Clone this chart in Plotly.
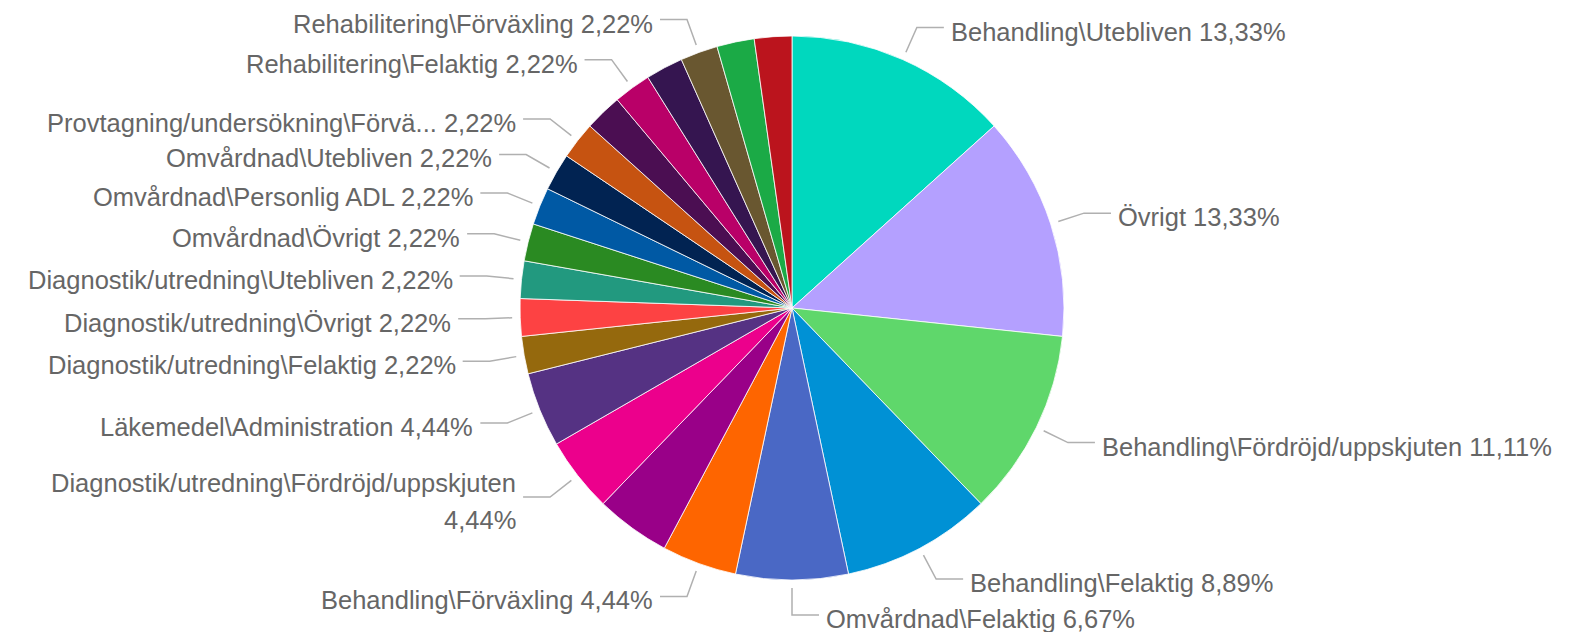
import math
import plotly.graph_objects as go

# ---------------- data ----------------
categories = [
    "Behandling\\Utebliven",
    "Övrigt",
    "Behandling\\Fördröjd/uppskjuten",
    "Behandling\\Felaktig",
    "Omvårdnad\\Felaktig",
    "Behandling\\Förväxling",
    "Behandling\\Övrigt",
    "Diagnostik/utredning\\Fördröjd/uppskjuten",
    "Läkemedel\\Administration",
    "Diagnostik/utredning\\Felaktig",
    "Diagnostik/utredning\\Övrigt",
    "Diagnostik/utredning\\Utebliven",
    "Omvårdnad\\Övrigt",
    "Omvårdnad\\Personlig ADL",
    "Omvårdnad\\Utebliven",
    "Provtagning/undersökning\\Förväxling",
    "Provtagning/undersökning\\Utebliven",
    "Rehabilitering\\Felaktig",
    "Rehabilitering\\Fördröjd/uppskjuten",
    "Rehabilitering\\Förväxling",
    "Rehabilitering\\Utebliven",
    "Vårdrelaterad infektion",
]
counts = [6, 6, 5, 4, 3, 2, 2, 2, 2, 1, 1, 1, 1, 1, 1, 1, 1, 1, 1, 1, 1, 1]

# text as shown on the chart (Power BI truncates / wraps some names)
display_names = [
    "Behandling\\Utebliven",
    "Övrigt",
    "Behandling\\Fördröjd/uppskjuten",
    "Behandling\\Felaktig",
    "Omvårdnad\\Felaktig",
    "Behandling\\Förväxling",
    "Behandling\\Övrigt",
    "Diagnostik/utredning\\Fördröjd/uppskjuten",
    "Läkemedel\\Administration",
    "Diagnostik/utredning\\Felaktig",
    "Diagnostik/utredning\\Övrigt",
    "Diagnostik/utredning\\Utebliven",
    "Omvårdnad\\Övrigt",
    "Omvårdnad\\Personlig ADL",
    "Omvårdnad\\Utebliven",
    "Provtagning/undersökning\\Förvä...",
    "Provtagning/undersökning\\Utebliven",
    "Rehabilitering\\Felaktig",
    "Rehabilitering\\Fördröjd/uppskjuten",
    "Rehabilitering\\Förväxling",
    "Rehabilitering\\Utebliven",
    "Vårdrelaterad infektion",
]
label_shown = [True, True, True, True, True, True, False, True, True, True, True,
               True, True, True, True, True, False, True, False, True, False, False]
label_wrapped = [False] * 7 + [True] + [False] * 14

colors = [
    "#00D8BE", "#B4A0FF", "#5FD76B", "#0091D5", "#4A68C5", "#FE6500",
    "#990088", "#EC008C", "#553283", "#95690D", "#FD4243", "#22997F",
    "#2A8A22", "#0059A4", "#012352", "#C65311", "#4B0E52", "#B90068",
    "#351550", "#695730", "#1BAA46", "#BB141D",
]

# ---------------- layout geometry ----------------
W, H = 1571, 632
CX, CY, R = 792, 308, 272          # pie centre / radius in pixels
LINE_START, ELBOW = 8, 35          # leader line radii beyond the pie edge
HSEG, GAP = 27, 5                  # horizontal leader length, gap to text
TEXT_SHIFT = 4                     # text sits slightly below the leader line
LINE_SPACING = 37                  # wrapped label line spacing
TEXT_COLOR = "#666666"
LINE_COLOR = "#B0B0B0"
FONT = "Liberation Sans, Arial, sans-serif"
FONT_SIZE = 25.5


def px(x):
    return x / W


def py(y):
    return 1 - y / H


fig = go.Figure(
    go.Pie(
        labels=categories,
        values=counts,
        sort=False,
        direction="clockwise",
        rotation=0,
        textinfo="none",
        marker=dict(colors=colors, line=dict(color="white", width=0.8)),
        domain=dict(x=[px(CX - R), px(CX + R)], y=[py(CY + R), py(CY - R)]),
        showlegend=False,
        hovertemplate="%{label}<br>%{value} (%{percent})<extra></extra>",
    )
)

total = sum(counts)
cum = 0
annotations = []
shapes = []
for name, v, show, wrap in zip(display_names, counts, label_shown, label_wrapped):
    a0 = cum / total * 360
    cum += v
    a1 = cum / total * 360
    if not show:
        continue
    mid = math.radians((a0 + a1) / 2)
    dx, dy = math.sin(mid), -math.cos(mid)
    right = dx >= -1e-9
    x0, y0 = CX + (R + LINE_START) * dx, CY + (R + LINE_START) * dy
    x1, y1 = CX + (R + ELBOW) * dx, CY + (R + ELBOW) * dy
    s = 1 if right else -1
    x2 = x1 + s * HSEG
    xt = x2 + s * GAP
    pct = f"{100 * v / total:.2f}".replace(".", ",") + "%"
    shapes.append(dict(
        type="path", xref="paper", yref="paper",
        path=f"M {px(x0)} {py(y0)} L {px(x1)} {py(y1)} L {px(x2)} {py(y1)}",
        line=dict(color=LINE_COLOR, width=1.5),
    ))
    if wrap:
        lines = [(name, -LINE_SPACING / 2), (pct, LINE_SPACING / 2)]
    else:
        lines = [(name + " " + pct, 0)]
    for txt, off in lines:
        annotations.append(dict(
            x=px(xt), y=py(y1), xref="paper", yref="paper",
            text=txt, showarrow=False,
            xanchor="left" if right else "right", yanchor="middle",
            yshift=-(TEXT_SHIFT + off),
            font=dict(family=FONT, size=FONT_SIZE, color=TEXT_COLOR),
        ))

fig.update_layout(
    width=W, height=H,
    margin=dict(l=0, r=0, t=0, b=0),
    paper_bgcolor="white",
    plot_bgcolor="white",
    annotations=annotations,
    shapes=shapes,
    font=dict(family=FONT),
)

fig.write_html(
    "out.html",
    config={"displayModeBar": False},
    post_script="document.body.style.margin='0';document.body.style.overflow='hidden';",
)
